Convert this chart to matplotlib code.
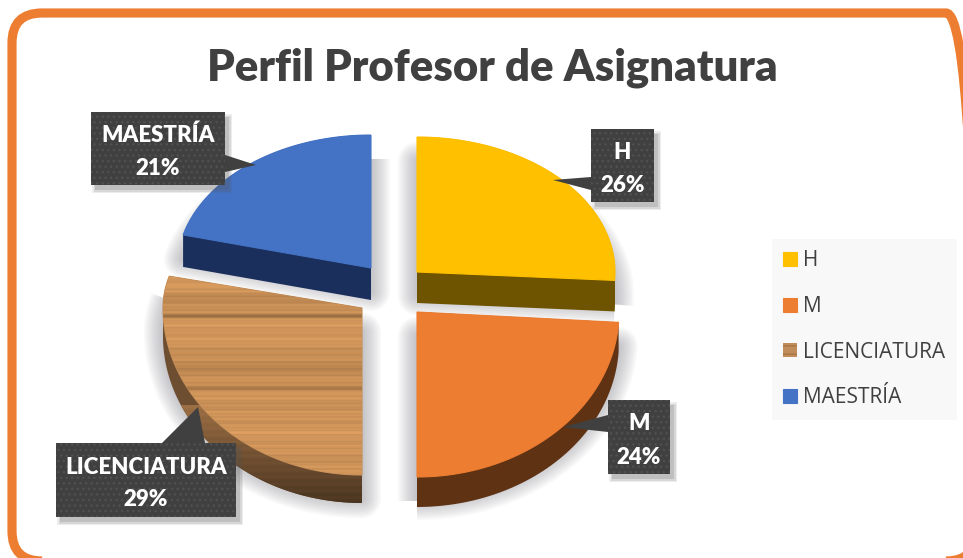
import numpy as np
import matplotlib
matplotlib.use("Agg")
import matplotlib.pyplot as plt
from matplotlib.patches import FancyBboxPatch, PathPatch, Polygon, Rectangle
from matplotlib.path import Path
from matplotlib.transforms import Transform

categories = ["H", "M", "LICENCIATURA", "MAESTRÍA"]
values = [26, 24, 29, 21]
colors = ["#FFC000", "#ED7D31", "#C08C58", "#4472C4"]
wall_colors = ["#6E5300", "#5F3214", "#6E4E30", "#1B2F5C"]
title = "Perfil Profesor de Asignatura"

W, H = 963, 558
plt.rcParams["font.family"] = ["Open Sans", "DejaVu Sans"]
plt.rcParams["hatch.linewidth"] = 1.0
LABEL_FONT = ["Lato", "DejaVu Sans"]


class Squash(Transform):
    """Projects a unit-circle pie slice on to the tilted plane of the chart."""
    input_dims = output_dims = 2
    has_inverse = False
    is_affine = False

    def __init__(self, cx, cy, rx, up, dn, dy=0.0):
        super().__init__()
        self.p = (cx, cy, rx, up, dn, dy)

    def transform_non_affine(self, v):
        cx, cy, rx, up, dn, dy = self.p
        v = np.asarray(v, float)
        x, y = v[:, 0], v[:, 1]
        return np.column_stack([cx + x * rx, cy + dy + y * np.where(y > 0, up, dn)])

    def transform_path_non_affine(self, path):
        pts = [seg(np.linspace(0, 1, 30)).reshape(-1, 2) for seg, _ in path.iter_bezier()]
        xy = np.concatenate(pts)
        return Path(self.transform_non_affine(xy))


def convex_hull(points):
    pts = sorted(set(map(tuple, np.round(points, 3))))

    def half(seq):
        out = []
        for p in seq:
            while len(out) >= 2 and ((out[-1][0] - out[-2][0]) * (p[1] - out[-2][1])
                                     - (out[-1][1] - out[-2][1]) * (p[0] - out[-2][0])) <= 0:
                out.pop()
            out.append(p)
        return out[:-1]

    return np.array(half(pts) + half(pts[::-1]))


fig = plt.figure(figsize=(W / 100, H / 100), dpi=100, facecolor="white")
ax = fig.add_axes([0, 0, 1, 1])


def Y(y):
    return H - y


# slice geometry in pixels: apex x, apex y, rx, radius above, radius below, depth
geom = [
    (417, 272, 198, 135, 134, 31),
    (417, 312, 202, 165, 165, 30),
    (362, 308, 199, 128, 167, 28),
    (371, 268, 194, 133, 133, 32),
]

wedges, _ = ax.pie(values, colors=colors, startangle=90, counterclock=False,
                   wedgeprops=dict(linewidth=0.8, zorder=4))
ax.set_aspect("auto")
for w, c in zip(wedges, colors):
    w.set_edgecolor(c)

# soft shadows
for w, (cx, cy, rx, up, dn, depth) in zip(wedges, geom):
    for lw_px in np.linspace(3, 38, 10):
        ax.add_patch(PathPatch(w.get_path(), facecolor="#80808A", edgecolor="#80808A",
                               lw=lw_px * 0.72, alpha=0.055, joinstyle="round", zorder=1,
                               transform=Squash(cx, Y(cy), rx, up, dn, dy=-24) + ax.transData))

# extruded side walls: hull of the top face and the same face moved down
walls = []
for i, (w, (cx, cy, rx, up, dn, depth)) in enumerate(zip(wedges, geom)):
    top = Squash(cx, Y(cy), rx, up, dn).transform_path_non_affine(w.get_path()).vertices
    hull = convex_hull(np.vstack([top, top - [0, depth]]))
    wall = Polygon(hull, closed=True, facecolor=wall_colors[i], edgecolor="none", zorder=2)
    ax.add_patch(wall)
    walls.append(wall)

# top faces
for w, (cx, cy, rx, up, dn, depth) in zip(wedges, geom):
    w.set_transform(Squash(cx, Y(cy), rx, up, dn) + ax.transData)
    w.set_zorder(3)

# shaded grain on the LICENCIATURA wall (deterministic)
wall_rows = np.arange(100.0)
wall_shade = 1.42 - 0.75 * wall_rows / 99 + 0.03 * np.sin(wall_rows * 0.9)
wall_tex = np.array(matplotlib.colors.to_rgb(wall_colors[2]))[None, None, :] * wall_shade[:, None, None]
wall_im = ax.imshow(np.clip(wall_tex, 0, 1), extent=(155, 370, Y(505), Y(405)), origin="upper",
                    aspect="auto", zorder=2.5, interpolation="bilinear")
wall_im.set_clip_path(walls[2])

# wood grain on the LICENCIATURA slice (deterministic stripes)
rows = np.arange(480.0)
grain = (0.40 * np.sin(rows * 0.47) + 0.35 * np.sin(rows * 0.911 + 1.0) + 0.30 * np.sin(rows * 0.173 + 2.0)
         + 0.30 * np.sin(rows * 1.37) + 0.25 * np.sin(rows * 0.061 + 0.4) + 0.2 * np.sin(rows * 0.733 + 2.2))
shade = 1 + 0.075 * grain
shade -= 0.24 * np.exp(-((rows - 92) / 3.5) ** 2) + 0.16 * np.exp(-((rows - 236) / 5.0) ** 2) \
    + 0.08 * np.exp(-((rows - 200) / 24.0) ** 2) + 0.06 * np.exp(-((rows - 60) / 14.0) ** 2)
tex = np.array([0.81, 0.58, 0.35])[None, None, :] * shade[:, None, None]
im = ax.imshow(np.clip(tex, 0, 1), extent=(155, 370, Y(510), Y(270)), origin="upper",
               aspect="auto", zorder=3.5, interpolation="bilinear")
im.set_clip_path(wedges[2])

# outer rounded frame
x0, x1, y0, y1, rad = 12, 976, 13, 561, 30
ax.add_patch(FancyBboxPatch((x0 + rad, Y(y1) + rad), x1 - x0 - 2 * rad, y1 - y0 - 2 * rad,
                            boxstyle=f"round,pad={rad},rounding_size={rad}",
                            facecolor="none", edgecolor="#ED7D31", lw=6.6, zorder=6))

ax.text(492, Y(68), title, ha="center", va="center", fontsize=31.4, fontweight="heavy",
        family=LABEL_FONT, color="#404040", zorder=7)

# data label callouts: left, top, right, bottom, tail polygon
callouts = [
    ("H\n26%", (591, 129, 654, 202), [(591, 177), (553, 180), (591, 190)]),
    ("M\n24%", (608, 400, 670, 474), [(608, 415), (563, 427), (608, 432)]),
    ("LICENCIATURA\n29%", (56, 443, 236, 517), [(162, 443), (198, 407), (205, 443)]),
    ("MAESTRÍA\n21%", (91, 112, 225, 185), [(225, 155), (256, 165), (225, 172)]),
]
for text, (l, t, r, b), tail in callouts:
    for grow, alpha in [(3, 0.10), (1.5, 0.14), (0, 0.18)]:
        ax.add_patch(Rectangle((l + 4 - grow, Y(b) - 5 - grow), r - l + 2 * grow, b - t + 2 * grow,
                               facecolor="#555555", alpha=alpha, lw=0, zorder=7))
    ax.add_patch(Polygon([(x, Y(y)) for x, y in tail], closed=True, facecolor="#404040",
                         edgecolor="none", zorder=8))
    ax.add_patch(Rectangle((l, Y(b)), r - l, b - t, facecolor="#404040", edgecolor="#505050",
                           hatch="...", lw=0, zorder=8))
    a, n = text.split("\n")
    mid = (l + r) / 2
    ax.text(mid, Y((t + b) / 2 - 13), a, ha="center", va="center", color="white",
            fontsize=16, fontweight="heavy", family=LABEL_FONT, zorder=9)
    ax.text(mid, Y((t + b) / 2 + 20), n, ha="center", va="center", color="white",
            fontsize=16, fontweight="heavy", family=LABEL_FONT, zorder=9)

ax.set_xlim(0, W)
ax.set_ylim(0, H)
ax.axis("off")

fs = 15.0
px = fs * 100 / 72
leg = ax.legend(wedges, categories, loc="upper left", bbox_to_anchor=(772, Y(239)),
                bbox_transform=ax.transData, prop={"family": "Open Sans", "size": fs},
                frameon=True, fancybox=False,
                facecolor="#F8F8F8", edgecolor="none", framealpha=1, borderaxespad=0,
                borderpad=0.55, handlelength=14 / px, handleheight=14 / px,
                handletextpad=6 / px, labelspacing=1.18, labelcolor="#404040")
leg.set_zorder(7)
wood_handle = leg.legend_handles[2]
wood_handle.set_hatch("--")
wood_handle.set_edgecolor("#A87644")
wood_handle.set_linewidth(0)

fig.savefig("out.png", dpi=100, facecolor="white")
